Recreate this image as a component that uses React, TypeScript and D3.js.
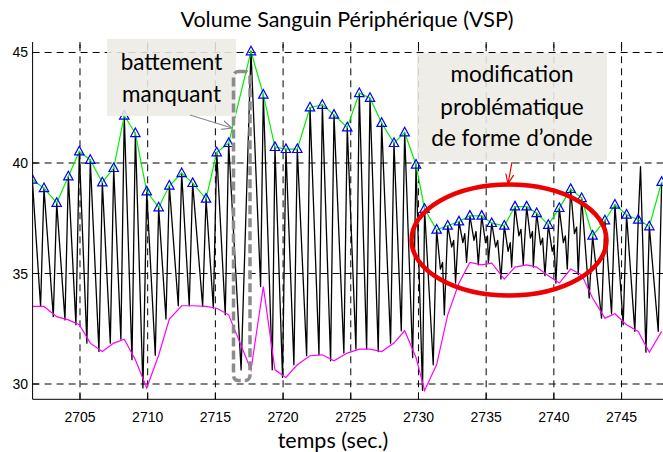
import * as d3 from "d3";

const WIDTH = 663;
const HEIGHT = 452;
const PLOT = { left: 32.6, right: 667.6, top: 42, bottom: 399.3 };

const X_DOMAIN = [2701.5, 2748.4];
const Y_DOMAIN = [29.308, 45.475];
const X_TICKS = [2705, 2710, 2715, 2720, 2725, 2730, 2735, 2740, 2745];
const Y_TICKS = [30, 35, 40, 45];

// detected beats: time of the peak, peak value (triangles), foot value before the beat (magenta)
const PEAK_T = [
  2701.48, 2702.34, 2703.28, 2704.14, 2704.95, 2705.76, 2706.65, 2707.49, 2708.27, 2709.09,
  2709.93, 2710.81, 2711.6, 2712.51, 2713.32, 2714.31, 2715.1, 2715.98, 2717.63, 2718.54,
  2719.4, 2720.21, 2721.05, 2721.99, 2722.9, 2723.76, 2724.74, 2725.63, 2726.42, 2727.28,
  2728.19, 2728.98, 2729.82, 2730.45, 2731.34, 2732.16, 2732.99, 2733.8, 2734.67, 2735.41,
  2736.34, 2737.13, 2737.99, 2738.73, 2739.59, 2740.4, 2741.24, 2742.05, 2742.86, 2743.77,
  2744.51, 2745.37, 2746.23, 2747.05, 2747.96,
];
const PEAK_V = [
  39.24, 38.86, 38.19, 39.39, 40.52, 40.14, 39.12, 39.77, 42.14, 41.35,
  38.71, 37.99, 38.97, 39.54, 39.09, 38.38, 40.48, 40.9, 45.05, 43.09,
  40.72, 40.63, 40.63, 42.51, 42.63, 42.18, 41.61, 43.16, 42.94, 41.81,
  40.9, 41.38, 39.92, 37.92, 36.98, 37.16, 37.35, 37.61, 37.61, 37.28,
  37.16, 38.03, 38.03, 37.73, 37.2, 37.96, 38.82, 38.41, 36.71, 37.4,
  38.11, 37.66, 37.43, 37.13, 39.14,
];
const FOOT_T = [
  2701.23, 2702.09, 2703.03, 2703.89, 2704.7, 2705.51, 2706.4, 2707.24, 2708.02, 2708.84,
  2709.65, 2710.56, 2711.35, 2712.26, 2713.07, 2714.06, 2714.85, 2715.73, 2716.9, 2718.34,
  2719.2, 2719.96, 2720.8, 2721.74, 2722.65, 2723.51, 2724.49, 2725.38, 2726.17, 2727.03,
  2727.94, 2728.73, 2729.57, 2730.3, 2731.09, 2731.91, 2732.74, 2733.55, 2734.42, 2735.16,
  2736.09, 2736.88, 2737.74, 2738.48, 2739.34, 2740.15, 2740.99, 2741.8, 2742.61, 2743.52,
  2744.26, 2745.12, 2745.98, 2746.8, 2747.71,
];
const FOOT_V = [
  33.51, 33.51, 33.05, 32.9, 32.68, 31.85, 31.47, 31.85, 32.03, 31.1,
  29.82, 31.3, 32.94, 33.54, 33.54, 33.51, 33.43, 33.13, 30.64, 34.41,
  30.64, 30.3, 30.87, 31.28, 31.32, 31.05, 31.4, 31.58, 31.58, 31.47,
  31.85, 32.41, 31.2, 29.71, 30.87, 33.13, 34.57, 35.5, 35.39, 35.47,
  34.75, 35.29, 35.39, 35.29, 34.9, 34.57, 35.2, 34.94, 33.89, 32.98,
  33.18, 32.68, 32.38, 31.44, 32.38,
];
// extra vertices of the raw signal: notches of the modified waveform and an artefact spike
const EXTRA_T = [
  2731.62, 2731.78, 2732.45, 2732.6, 2733.28, 2733.42, 2734.1, 2734.25, 2734.95, 2735.1,
  2735.7, 2735.85, 2736.62, 2736.78, 2737.42, 2737.57, 2738.27, 2738.42, 2739.02, 2739.17,
  2739.88, 2740.02, 2740.7, 2740.85, 2741.52, 2741.68, 2746.4,
];
const EXTRA_V = [
  35.2, 35.5, 36.2, 36.5, 36.4, 36.8, 36.5, 36.9, 36.4, 36.7,
  36.2, 36.5, 36.0, 36.4, 36.7, 37.0, 36.6, 36.9, 36.3, 36.6,
  36.0, 36.3, 36.4, 36.7, 36.8, 37.1, 39.84,
];

const x = d3.scaleLinear().domain(X_DOMAIN).range([PLOT.left, PLOT.right]);
const y = d3.scaleLinear().domain(Y_DOMAIN).range([PLOT.bottom, PLOT.top]);

type Pt = [number, number];

const wave: Pt[] = [
  ...PEAK_T.map((t, i) => [t, PEAK_V[i]] as Pt),
  ...FOOT_T.map((t, i) => [t, FOOT_V[i]] as Pt),
  ...EXTRA_T.map((t, i) => [t, EXTRA_V[i]] as Pt),
].sort((a, b) => a[0] - b[0]);

const peaks: Pt[] = PEAK_T.map((t, i) => [t, PEAK_V[i]]);
const feet: Pt[] = PEAK_T.map((t, i) => [t, FOOT_V[i]]);

const line = d3
  .line<Pt>()
  .x((d) => x(d[0]))
  .y((d) => y(d[1]));

const CALIBRI = "Lato, 'Open Sans', sans-serif";
const ARIAL = "'Liberation Sans', Arial, sans-serif";

export default function App() {
  const dash = "7,5";
  return (
    <svg
      width={WIDTH}
      height={HEIGHT}
      style={{ position: "absolute", left: 0, top: 0, background: "#fff" }}
    >
      <defs>
        <clipPath id="plot">
          <rect x={PLOT.left} y={PLOT.top} width={PLOT.right - PLOT.left} height={PLOT.bottom - PLOT.top} />
        </clipPath>
        <marker id="arrGray" viewBox="0 0 10 10" refX="10" refY="5" markerWidth="10" markerHeight="10" markerUnits="userSpaceOnUse" orient="auto">
          <path d="M0,0.5 L10,5 L0,9.5" fill="none" stroke="#8a8a8a" strokeWidth={1.2} />
        </marker>
        <marker id="arrRed" viewBox="0 0 10 10" refX="10" refY="5" markerWidth="10" markerHeight="10" markerUnits="userSpaceOnUse" orient="auto">
          <path d="M0,1 L10,5 L0,9" fill="none" stroke="#e00" strokeWidth={1.2} />
        </marker>
      </defs>

      <text x={347} y={27} textAnchor="middle" fontFamily={CALIBRI} fontSize={21.5} fill="#000">
        Volume Sanguin Périphérique (VSP)
      </text>

      {/* grid */}
      <g stroke="#000" strokeWidth={1} strokeDasharray={dash}>
        {X_TICKS.map((t) => (
          <line key={`gx${t}`} x1={x(t)} x2={x(t)} y1={PLOT.bottom} y2={PLOT.top} />
        ))}
        {Y_TICKS.map((v) => (
          <line key={`gy${v}`} x1={PLOT.left} x2={PLOT.right} y1={y(v)} y2={y(v)} />
        ))}
      </g>

      <g clipPath="url(#plot)" fill="none">
        <path d={line(wave) ?? ""} stroke="#000" strokeWidth={1.3} strokeLinejoin="round" />
        <path d={line(feet) ?? ""} stroke="#ff00ff" strokeWidth={1.2} />
        <path d={line(peaks) ?? ""} stroke="#00ee00" strokeWidth={1.2} />
        {peaks.map((p, i) => (
          <path
            key={i}
            transform={`translate(${x(p[0])},${y(p[1])})`}
            d="M0,-5.2 L4.7,3.4 L-4.7,3.4 Z"
            stroke="#0000ff"
            strokeWidth={1.2}
          />
        ))}
      </g>

      {/* axes */}
      <g stroke="#000" strokeWidth={1}>
        <line x1={PLOT.left} x2={PLOT.left} y1={PLOT.top} y2={PLOT.bottom} />
        <line x1={PLOT.left} x2={PLOT.right} y1={PLOT.bottom} y2={PLOT.bottom} />
        {X_TICKS.map((t) => (
          <g key={`tx${t}`}>
            <line x1={x(t)} x2={x(t)} y1={PLOT.bottom} y2={PLOT.bottom - 6} />
            <line x1={x(t)} x2={x(t)} y1={PLOT.top} y2={PLOT.top + 6} />
          </g>
        ))}
        {Y_TICKS.map((v) => (
          <line key={`ty${v}`} x1={PLOT.left} x2={PLOT.left + 6} y1={y(v)} y2={y(v)} />
        ))}
      </g>
      <g fontFamily={ARIAL} fontSize={14} fill="#000">
        {X_TICKS.map((t) => (
          <text key={`lx${t}`} x={x(t)} y={422} textAnchor="middle">
            {t}
          </text>
        ))}
        {Y_TICKS.map((v) => (
          <text key={`ly${v}`} x={28} y={y(v) + 5} textAnchor="end">
            {v}
          </text>
        ))}
      </g>
      <text x={333} y={447.5} textAnchor="middle" fontFamily={CALIBRI} fontSize={21.5} fill="#000">
        temps (sec.)
      </text>

      {/* annotation: missing beat */}
      <rect x={107} y={39} width={129} height={77} fill="#ecebe4" opacity={0.88} />
      <g fontFamily={CALIBRI} fontSize={22.5} fill="#000" textAnchor="middle">
        <text x={171.5} y={70}>battement</text>
        <text x={171.5} y={102}>manquant</text>
      </g>
      <line x1={190} y1={115} x2={232} y2={128} stroke="#8a8a8a" strokeWidth={1.2} markerEnd="url(#arrGray)" />
      <rect x={233.5} y={71.5} width={16.5} height={309} rx={5} fill="none" stroke="#8c8c8c" strokeWidth={3.5} strokeDasharray="9,4" />

      {/* annotation: waveform change */}
      <rect x={417} y={53} width={190} height={108} fill="#ecebe4" opacity={0.88} />
      <g fontFamily={CALIBRI} fontSize={22.5} fill="#000" textAnchor="middle">
        <text x={512} y={82}>modification</text>
        <text x={512} y={115}>problématique</text>
        <text x={512} y={146}>de forme d’onde</text>
      </g>
      <line x1={512} y1={162} x2={508} y2={184} stroke="#e00" strokeWidth={1.2} markerEnd="url(#arrRed)" />
      <ellipse cx={509} cy={240} rx={97.5} ry={55.5} fill="none" stroke="#ee0000" strokeWidth={4.5} />
    </svg>
  );
}
